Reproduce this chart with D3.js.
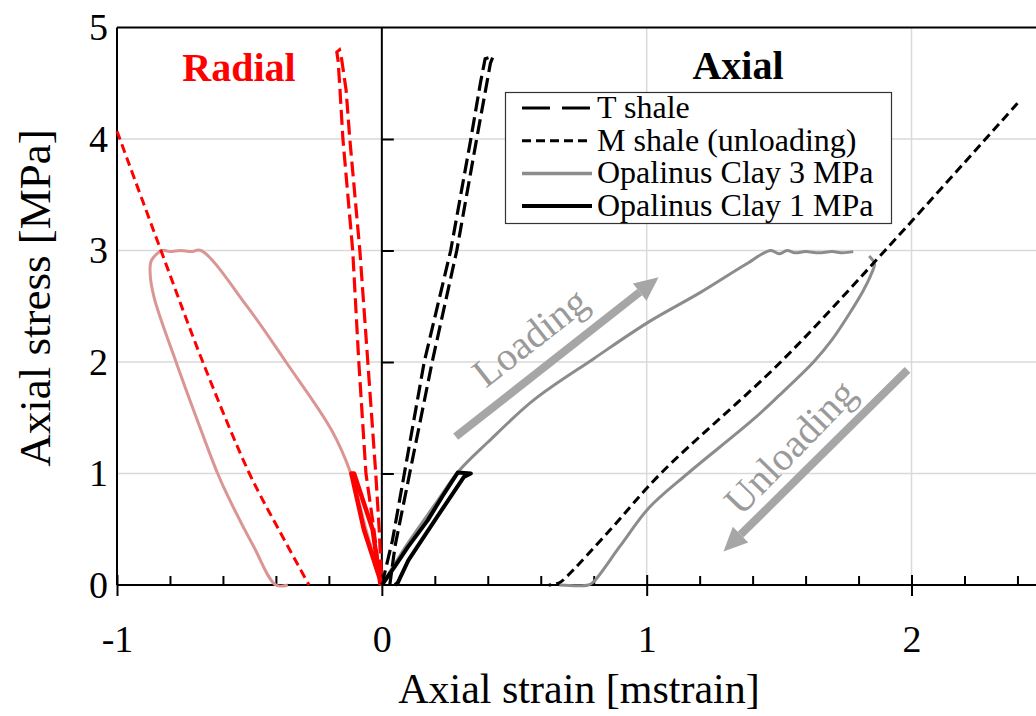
<!DOCTYPE html>
<html><head><meta charset="utf-8">
<script src="https://cdn.jsdelivr.net/npm/d3@7"></script>
<style>
body{margin:0;background:#fff;}
text{font-family:"Liberation Serif","Times New Roman",serif;}
</style></head>
<body><svg id="c" width="1036" height="716"></svg>
<script>
// ---- data (strain in mstrain, stress in MPa) ----
const xMajorTicks = [-1, 0, 1, 2];
const xMinorTicks = [-0.8,-0.6,-0.4,-0.2,0.2,0.4,0.6,0.8,1.2,1.4,1.6,1.8,2.2,2.4];
const yTicks = [0, 1, 2, 3, 4, 5];
const yAxisTicks = [1, 2, 3, 4];
const xGrid = [1, 2];
const yGrid = [1, 2, 3, 4];

// T shale axial (long dash)
const tShaleAxialX = [0.0, 0.04, 0.085, 0.16, 0.26, 0.336, 0.372, 0.39, 0.42, 0.41, 0.404, 0.358, 0.283, 0.19, 0.105, 0.05, 0.03];
const tShaleAxialY = [0, 0.4, 1, 2, 3, 4, 4.5, 4.72, 4.74, 4.68, 4.6, 4, 3, 2, 1, 0.35, 0];
// T shale radial (long dash, red)
const tShaleRadialX = [-0.005, -0.03, -0.06, -0.087, -0.11, -0.147, -0.158, -0.165, -0.17, -0.16, -0.152, -0.135, -0.121, -0.083, -0.053, -0.023, -0.01, 0];
const tShaleRadialY = [0, 0.5, 1, 2, 3, 4, 4.44, 4.7, 4.78, 4.8, 4.72, 4.44, 4, 3, 2, 1, 0.5, 0];
// M shale unloading (short dash)
const mShaleAxialX = [2.40, 1.90, 1.506, 1.053, 0.864, 0.70, 0.67, 0.63];
const mShaleAxialY = [4.32, 3.0, 2.0, 1.0, 0.5, 0.08, 0.02, 0];
const mShaleRadialX = [-1.0, -0.834, -0.676, -0.50, -0.39, -0.275];
const mShaleRadialY = [4.07, 3.0, 2.0, 1.0, 0.5, 0];
// Opalinus Clay 3 MPa axial (grey): loading + creep plateau
const oc3AxialX = [0, 0.1, 0.2, 0.29, 0.4, 0.574, 0.8, 1.008, 1.2, 1.37, 1.468, 1.50, 1.53, 1.56, 1.60, 1.65, 1.70, 1.74, 1.78];
const oc3AxialY = [0, 0.38, 0.72, 1.02, 1.28, 1.66, 2.03, 2.36, 2.62, 2.87, 3.0, 2.97, 3.0, 2.98, 2.99, 2.98, 2.99, 2.98, 2.99];
// Opalinus Clay 3 MPa axial unloading
const oc3UnloadX = [1.84, 1.86, 1.85, 1.82, 1.77, 1.70, 1.63, 1.50, 1.40, 1.155, 1.008, 0.90, 0.80, 0.78, 0.67];
const oc3UnloadY = [2.95, 2.88, 2.8, 2.65, 2.45, 2.2, 2.0, 1.7, 1.48, 1.0, 0.69, 0.35, 0.03, 0, 0];
// Opalinus Clay 3 MPa radial (light red)
const oc3RadialX = [0, -0.06, -0.117, -0.19, -0.362, -0.506, -0.683, -0.72, -0.76, -0.80, -0.83, -0.87, -0.875, -0.86, -0.777, -0.683, -0.62, -0.58, -0.483, -0.40, -0.355];
const oc3RadialY = [0, 0.5, 1.0, 1.39, 2.0, 2.49, 3.0, 2.99, 3.0, 2.99, 3.0, 2.91, 2.8, 2.58, 2.0, 1.39, 1.0, 0.79, 0.34, 0.0, 0.0];
// Opalinus Clay 1 MPa axial (black solid)
const oc1AxialX = [0, 0.05, 0.098, 0.173, 0.23, 0.287, 0.336, 0.31, 0.2, 0.1, 0.06, 0.05];
const oc1AxialY = [0, 0.17, 0.34, 0.58, 0.8, 1.01, 1.0, 0.97, 0.58, 0.22, 0.02, 0];
// Opalinus Clay 1 MPa radial (red solid)
const oc1RadialX = [0, -0.068, -0.115, -0.105, -0.035, -0.005];
const oc1RadialY = [0, 0.5, 1.0, 1.0, 0.5, 0];

const legendLabels = ["T shale", "M shale (unloading)", "Opalinus Clay 3 MPa", "Opalinus Clay 1 MPa"];

// ---- chart ----
const svg = d3.select("#c");
const x = d3.scaleLinear().domain([-1, 2.47]).range([117, 1036]);
const y = d3.scaleLinear().domain([0, 5]).range([585, 27.5]);
const zip = (a, b) => a.map((v, i) => [v, b[i]]);
const line = d3.line().x(d => x(d[0])).y(d => y(d[1]));
const smooth = d3.line().x(d => x(d[0])).y(d => y(d[1])).curve(d3.curveCatmullRom.alpha(0.5));

// grid
svg.append("g").selectAll("line").data(yGrid).join("line")
  .attr("x1", x(-1)).attr("x2", 1036).attr("y1", d => y(d)).attr("y2", d => y(d))
  .attr("stroke", "#d9d9d9").attr("stroke-width", 1.5);
svg.append("g").selectAll("line").data(xGrid).join("line")
  .attr("y1", y(5)).attr("y2", y(0)).attr("x1", d => x(d)).attr("x2", d => x(d))
  .attr("stroke", "#d9d9d9").attr("stroke-width", 1.5);

// frame lines
svg.append("line").attr("x1", x(-1)).attr("x2", 1036).attr("y1", y(5)).attr("y2", y(5)).attr("stroke", "#000").attr("stroke-width", 2);
svg.append("line").attr("x1", x(-1)).attr("x2", x(-1)).attr("y1", y(5)).attr("y2", y(0)).attr("stroke", "#000").attr("stroke-width", 2);
svg.append("line").attr("x1", x(-1)).attr("x2", 1036).attr("y1", y(0)).attr("y2", y(0)).attr("stroke", "#000").attr("stroke-width", 2);
svg.append("line").attr("x1", x(0)).attr("x2", x(0)).attr("y1", y(5)).attr("y2", y(0)).attr("stroke", "#000").attr("stroke-width", 2);

// x axis ticks
const xMaj = svg.append("g").attr("transform", `translate(0,${y(0)})`)
  .call(d3.axisBottom(x).tickValues(xMajorTicks).tickSize(11).tickFormat(""));
xMaj.select(".domain").remove();
xMaj.selectAll(".tick line").attr("y1", -10).attr("stroke-width", 2);
const xMin = svg.append("g").attr("transform", `translate(0,${y(0)})`)
  .call(d3.axisBottom(x).tickValues(xMinorTicks).tickSize(-9).tickFormat(""));
xMin.select(".domain").remove();
xMin.selectAll(".tick line").attr("stroke-width", 2);
const xLab = svg.append("g").attr("transform", `translate(0,${y(0)})`)
  .call(d3.axisBottom(x).tickValues(xMajorTicks).tickSize(0).tickPadding(40).tickFormat(d => String(d)));
xLab.select(".domain").remove();
xLab.selectAll("text").attr("font-size", 38).attr("font-family", "Liberation Serif").attr("fill", "#000");

// y axis ticks at x = 0
const yAx = svg.append("g").attr("transform", `translate(${x(0)},0)`)
  .call(d3.axisLeft(y).tickValues(yAxisTicks).tickSize(12).tickFormat(""));
yAx.select(".domain").remove();
yAx.selectAll(".tick line").attr("x2", 12).attr("stroke-width", 2);
const yLab = svg.append("g").attr("transform", `translate(${x(-1)},0)`)
  .call(d3.axisLeft(y).tickValues(yTicks).tickSize(0).tickPadding(9).tickFormat(d => String(d)));
yLab.select(".domain").remove();
yLab.selectAll("text").attr("font-size", 38).attr("font-family", "Liberation Serif").attr("fill", "#000");

// axis titles
svg.append("text").attr("x", 579).attr("y", 703).attr("text-anchor", "middle")
  .attr("font-size", 42).text("Axial strain [mstrain]");
svg.append("text").attr("transform", "translate(50,298) rotate(-90)").attr("text-anchor", "middle")
  .attr("font-size", 45).text("Axial stress [MPa]");

// series
const pink = "#d99694", grey = "#8c8c8c", red = "#ff0000";
svg.append("path").datum(zip(oc3RadialX, oc3RadialY)).attr("d", smooth)
  .attr("fill", "none").attr("stroke", pink).attr("stroke-width", 3).attr("stroke-linejoin", "round");
svg.append("path").datum(zip(oc3AxialX, oc3AxialY)).attr("d", smooth)
  .attr("fill", "none").attr("stroke", grey).attr("stroke-width", 3).attr("stroke-linejoin", "round");
svg.append("path").datum(zip(oc3UnloadX, oc3UnloadY)).attr("d", smooth)
  .attr("fill", "none").attr("stroke", grey).attr("stroke-width", 3).attr("stroke-linejoin", "round");
svg.append("path").datum(zip(mShaleRadialX, mShaleRadialY)).attr("d", smooth)
  .attr("fill", "none").attr("stroke", red).attr("stroke-width", 3).attr("stroke-dasharray", "9,5");
svg.append("path").datum(zip(mShaleAxialX, mShaleAxialY)).attr("d", smooth)
  .attr("fill", "none").attr("stroke", "#000").attr("stroke-width", 3).attr("stroke-dasharray", "9,5");
svg.append("path").datum(zip(tShaleRadialX, tShaleRadialY)).attr("d", line)
  .attr("fill", "none").attr("stroke", red).attr("stroke-width", 3.2).attr("stroke-dasharray", "15,6");
svg.append("path").datum(zip(tShaleAxialX, tShaleAxialY)).attr("d", line)
  .attr("fill", "none").attr("stroke", "#000").attr("stroke-width", 3.2).attr("stroke-dasharray", "15,6");
svg.append("path").datum(zip(oc1RadialX, oc1RadialY)).attr("d", line)
  .attr("fill", "none").attr("stroke", red).attr("stroke-width", 4.5).attr("stroke-linejoin", "round");
svg.append("path").datum(zip(oc1AxialX, oc1AxialY)).attr("d", line)
  .attr("fill", "none").attr("stroke", "#000").attr("stroke-width", 4).attr("stroke-linejoin", "round");

// arrows
const arrowColor = "#a6a6a6";
function arrow(x0, y0, x1, y1) {
  const px0 = x(x0), py0 = y(y0), px1 = x(x1), py1 = y(y1);
  const ang = Math.atan2(py1 - py0, px1 - px0);
  const hl = 24, hw = 11;
  const bx = px1 - hl * Math.cos(ang), by = py1 - hl * Math.sin(ang);
  svg.append("line").attr("x1", px0).attr("y1", py0).attr("x2", bx).attr("y2", by)
    .attr("stroke", arrowColor).attr("stroke-width", 8);
  const nx = -Math.sin(ang), ny = Math.cos(ang);
  svg.append("path").attr("d", `M${px1},${py1}L${bx + nx * hw},${by + ny * hw}L${bx - nx * hw},${by - ny * hw}Z`)
    .attr("fill", arrowColor);
}
arrow(0.279, 1.33, 1.045, 2.76);
arrow(1.985, 1.93, 1.29, 0.30);
svg.append("text").attr("transform", "translate(530,337) rotate(-38)").attr("text-anchor", "middle")
  .attr("dominant-baseline", "central").attr("font-size", 40).attr("fill", "#9a9a9a").text("Loading");
svg.append("text").attr("transform", "translate(790,447) rotate(-46)").attr("text-anchor", "middle")
  .attr("dominant-baseline", "central").attr("font-size", 40).attr("fill", "#9a9a9a").text("Unloading");

// region labels
svg.append("text").attr("x", 239).attr("y", 81).attr("text-anchor", "middle")
  .attr("font-size", 40).attr("font-weight", "bold").attr("fill", red).text("Radial");
svg.append("text").attr("x", 738).attr("y", 79).attr("text-anchor", "middle")
  .attr("font-size", 40).attr("font-weight", "bold").attr("fill", "#000").text("Axial");

// legend
const lg = svg.append("g");
lg.append("rect").attr("x", 505.5).attr("y", 92.5).attr("width", 386).attr("height", 131)
  .attr("fill", "#fff").attr("stroke", "#333").attr("stroke-width", 1.2);
const legStyles = [
  {c: "#000", w: 3, d: "28,12"},
  {c: "#000", w: 3, d: "9,5"},
  {c: grey, w: 3.5, d: null},
  {c: "#000", w: 4, d: null}
];
legendLabels.forEach((t, i) => {
  const yy = 108 + i * 32.7;
  const s = legStyles[i];
  const l = lg.append("line").attr("x1", 522).attr("x2", 592).attr("y1", yy).attr("y2", yy)
    .attr("stroke", s.c).attr("stroke-width", s.w);
  if (s.d) l.attr("stroke-dasharray", s.d);
  lg.append("text").attr("x", 597).attr("y", yy + 10).attr("font-size", 32).text(t);
});
</script></body></html>
